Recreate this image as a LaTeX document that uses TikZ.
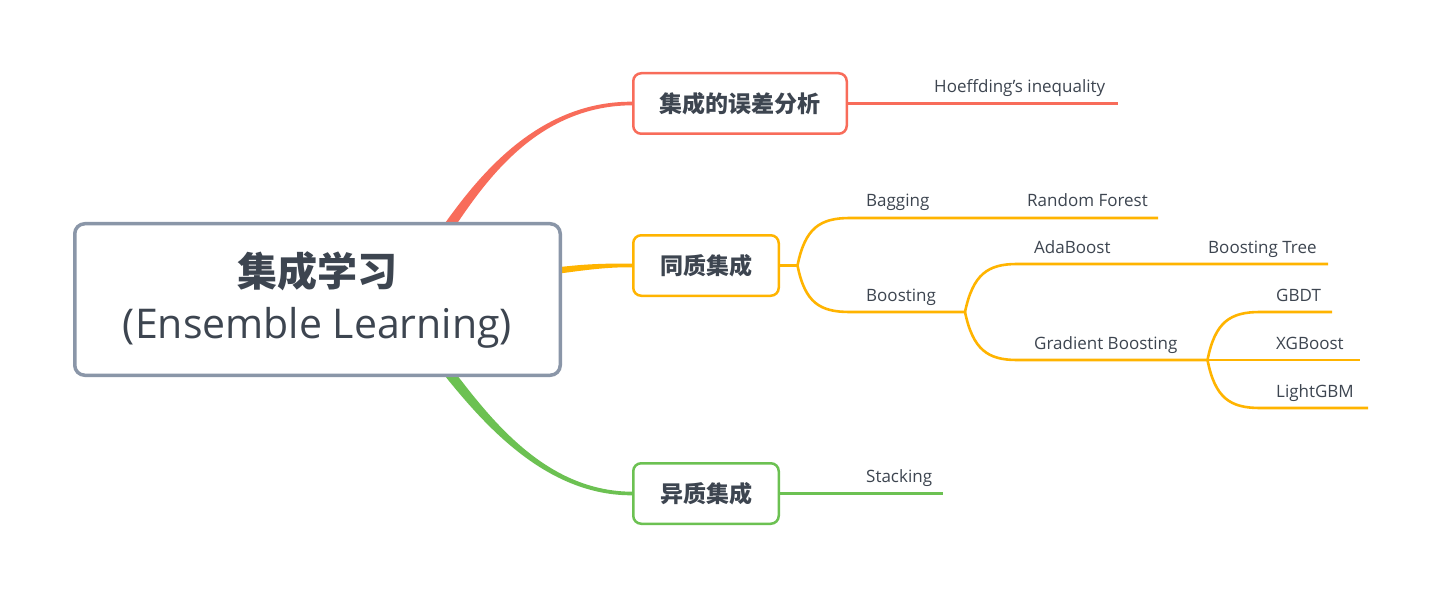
\documentclass[tikz,border=0pt]{standalone}
\usepackage{fontspec}
\setmainfont{Open Sans}
\newfontfamily\cjk{Noto Sans CJK SC}
\usetikzlibrary{calc}
\definecolor{cred}{HTML}{F86C5A}
\definecolor{corg}{HTML}{FFB400}
\definecolor{cgrn}{HTML}{6CC152}
\definecolor{cgry}{HTML}{8A96A8}
\definecolor{ctxt}{HTML}{3D4550}
\pgfdeclarelayer{bg}
\pgfsetlayers{bg,main}
\begin{document}
\begin{tikzpicture}[x=1pt,y=-1pt,
  rootbox/.style={draw=cgry, line width=3.5pt, rounded corners=10pt, fill=white,
    minimum width=485.5pt, minimum height=151.5pt, align=center, text=ctxt,
    font=\fontsize{41}{52}\selectfont, inner sep=0pt},
  mainbox/.style={draw=#1, line width=2.5pt, rounded corners=8pt, fill=white,
    minimum height=60.5pt, text=ctxt, font=\cjk\bfseries\fontsize{23}{28}\selectfont, inner sep=0pt},
  leaf/.style={anchor=base west, text=ctxt, font=\fontsize{17}{20}\selectfont, inner sep=0pt},
  lred/.style={draw=cred, line width=2.5pt},
  lorg/.style={draw=corg, line width=2.6pt},
  lgrn/.style={draw=cgrn, line width=2.5pt}]
\useasboundingbox (0,0) rectangle (1440,596);

% nodes
\node[rootbox] (root) at (317.5,299.5) {{\cjk\bfseries\fontsize{40}{52}\selectfont 集成学习}\\(Ensemble Learning)};
\node[mainbox=cred, minimum width=213.5pt] (e1) at (740,103.5) {集成的误差分析};
\node[mainbox=corg, minimum width=145.5pt] (e2) at (706,265.5) {同质集成};
\node[mainbox=cgrn, minimum width=145.5pt] (e3) at (706,493.5) {异质集成};

\node[leaf] (hoef) at (934,92.3) {Hoeffding\char39 s inequality};
\node[leaf] (bag) at (866,207) {Bagging};
\node[leaf] (rf) at (1027,207) {Random Forest};
\node[leaf] (boost) at (866,301) {Boosting};
\node[leaf] (ada) at (1034,253) {AdaBoost};
\node[leaf] (bt) at (1208,253) {Boosting Tree};
\node[leaf] (gb) at (1034,349) {Gradient Boosting};
\node[leaf] (gbdt) at (1276,301) {GBDT};
\node[leaf] (xgb) at (1276,349) {XGBoost};
\node[leaf] (lgbm) at (1276,397) {LightGBM};
\node[leaf] (stack) at (866,482) {Stacking};

% junctions and line ends
\coordinate (j1) at (797.5,265.5);
\coordinate (j2) at (965,312);
\coordinate (j3) at (1207.5,360);
\coordinate (hoefE) at (1118,103.5);
\coordinate (rfE) at (1158,218);
\coordinate (btE) at (1328,264);
\coordinate (gbdtE) at (1332,312);
\coordinate (xgbE) at (1360,360);
\coordinate (lgbmE) at (1368,408);
\coordinate (stackE) at (943,493.5);

\begin{pgfonlayer}{bg}
\fill[white] (0,0) rectangle (1440,596);
% tapered main connectors
\fill[cred] (436.7,235.1) -- (447.9,219.1) .. controls (481.7,172.7) and (540,101.3) .. ($(e1.west)+(0,-1.8)$)
  -- ($(e1.west)+(0,1.8)$) .. controls (540,105.7) and (488.3,177.3) .. (456.1,224.9) -- (444.9,240.9) -- cycle;
\fill[corg] (545,268.3) -- (562,266.8) .. controls (590,263.6) and (610,263.4) .. ($(e2.west)+(0,-1.8)$)
  -- ($(e2.west)+(0,1.8)$) .. controls (610,267) and (590,269.4) .. (562,273.2) -- (545,274.7) -- cycle;
\fill[cgrn] (445.1,360) -- (456.9,374.9) .. controls (496.1,426.1) and (550,491.3) .. ($(e3.west)+(0,-1.8)$)
  -- ($(e3.west)+(0,1.8)$) .. controls (550,495.7) and (489.9,431.1) .. (449.1,381.1) -- (437.3,366.2) -- cycle;

% leaf connectors
\draw[lred] (e1.east) -- (hoefE);
\draw[lgrn] (e3.east) -- (stackE);
\draw[lorg] (e2.east) -- (j1);
\draw[lorg, line join=round] (j1) .. controls (805,228) and (820,218) .. (850,218) -- (rfE);
\draw[lorg, line join=round] (j1) .. controls (805,303) and (820,312) .. (850,312) -- (j2);
\draw[lorg, line join=round] (j2) .. controls (973,274) and (988,264) .. (1017,264) -- (btE);
\draw[lorg, line join=round] (j2) .. controls (973,350) and (988,360) .. (1017,360) -- (j3);
\draw[lorg, line join=round] (j3) .. controls (1215,322) and (1230,312) .. (1260,312) -- (gbdtE);
\draw[lorg] (j3) -- (xgbE);
\draw[lorg, line join=round] (j3) .. controls (1215,398) and (1230,408) .. (1260,408) -- (lgbmE);
\end{pgfonlayer}
\end{tikzpicture}
\end{document}
